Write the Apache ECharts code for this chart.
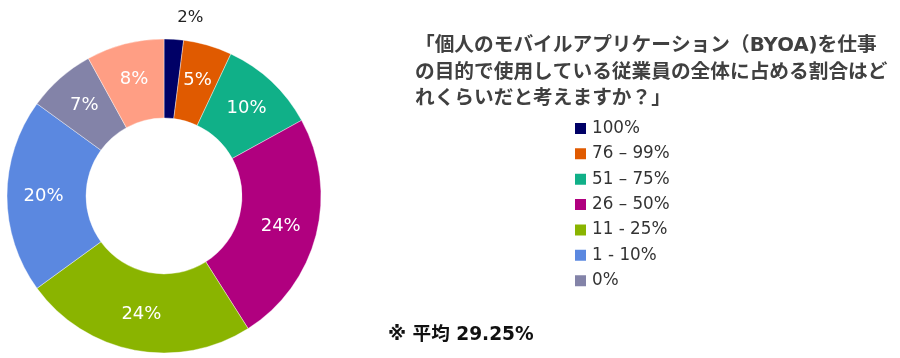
<!DOCTYPE html>
<html><head><meta charset="utf-8">
<script src="https://cdn.jsdelivr.net/npm/echarts@6/dist/echarts.min.js"></script>
<style>html,body{margin:0;padding:0;background:#fff}#c{width:900px;height:358px}</style>
</head><body><div id="c"></div>
<script>
const categories = ['100%', '76 – 99%', '51 – 75%', '26 – 50%', '11 - 25%', '1 - 10%', '0%', 'わからない'];
const values = [2, 5, 10, 24, 24, 20, 7, 8];
const colors = ['#000066', '#E05A00', '#10B088', '#B0007F', '#8AB400', '#5B88E0', '#8383A8', '#FF9E84'];
const legendItems = categories.slice(0, 7);
const titleLines = ['「個人のモバイルアプリケーション（BYOA)を仕事', 'の目的で使用している従業員の全体に占める割合はど', 'れくらいだと考えますか？」'];
const note = '※ 平均 29.25%';

const FONT = 'DejaVu Sans, Noto Sans CJK JP, sans-serif';
const chart = echarts.init(document.getElementById('c'), null, {renderer: 'canvas'});
const data = values.map((v, i) => {
  const d = {name: categories[i], value: v, itemStyle: {color: colors[i]}};
  if (i === 0) {
    d.label = {position: 'outside', color: '#222', fontSize: 16.5};
    d.labelLine = {show: false, length: 22, length2: -3};
  }
  return d;
});
chart.setOption({
  animation: false,
  backgroundColor: '#fff',
  title: [
    {text: titleLines.join('\n'), left: 410, top: 28,
     textStyle: {fontFamily: FONT, fontSize: 19.7, fontWeight: 'bold', color: '#404040', lineHeight: 26.5}},
    {text: note, left: 383, top: 318,
     textStyle: {fontFamily: FONT, fontSize: 18.6, fontWeight: 'bold', color: '#111', lineHeight: 24}}
  ],
  legend: {
    orient: 'vertical', left: 568, top: 115,
    data: legendItems,
    icon: 'rect', itemWidth: 13, itemHeight: 13, itemGap: 8.6,
    selectedMode: false,
    textStyle: {fontFamily: FONT, fontSize: 16.8, color: '#333', lineHeight: 16}
  },
  series: [{
    type: 'pie',
    center: [164, 196],
    radius: [78, 157],
    startAngle: 90,
    clockwise: true,
    avoidLabelOverlap: false,
    itemStyle: {borderColor: '#fff', borderWidth: 0.4},
    label: {show: true, position: 'inside', formatter: '{c}%', color: '#fff',
            fontFamily: FONT, fontSize: 18},
    labelLine: {show: false},
    emphasis: {disabled: true},
    data: data
  }]
});
</script></body></html>
